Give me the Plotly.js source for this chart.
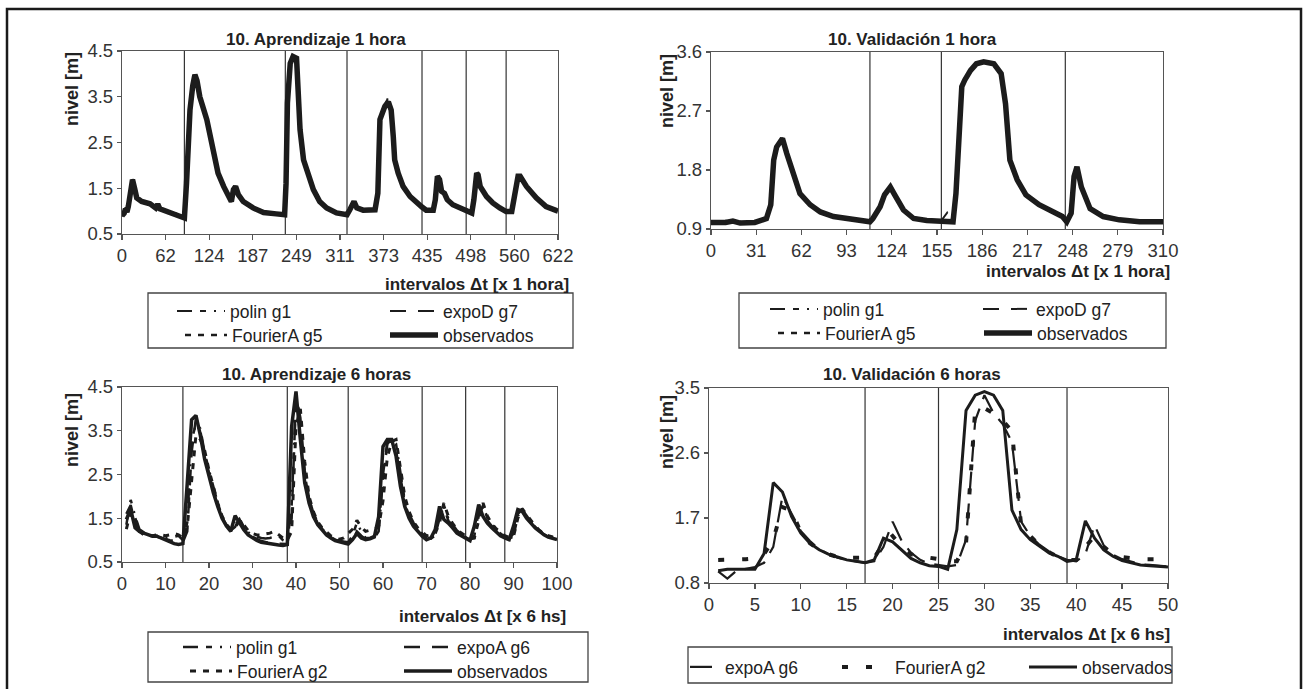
<!DOCTYPE html>
<html>
<head>
<meta charset="utf-8">
<script src="https://cdn.plot.ly/plotly-3.0.1.min.js"></script>
<style>html,body{margin:0;padding:0;background:#fff;}#chart{width:1303px;height:689px;}</style>
</head>
<body>
<div id="chart"></div>
<script>
// ---------- DATA ----------
// Panel 1: 10. Aprendizaje 1 hora
const xA1 = [0,3,5,7,9,12,15,18,21,28,
  40,48,51,54,68,87,89,92,97,101,
  104,107,111,121,130,137,145,152,156,159,
  162,166,173,187,202,220,232,234,236,240,
  244,249,251,254,259,266,273,282,292,306,
  321,325,331,335,344,361,365,368,370,375,
  380,384,387,389,394,401,411,420,428,434,
  444,447,450,453,456,460,464,472,484,491,
  499,502,506,508,511,520,529,539,548,556,
  559,565,568,577,591,605,620,622];
const obsA1 = [0.90,0.95,1.05,0.98,1.10,1.45,1.69,1.50,1.29,1.21,
  1.16,1.07,1.15,1.05,0.97,0.89,0.85,1.60,3.21,3.75,
  3.98,3.85,3.50,3.00,2.41,1.83,1.54,1.32,1.21,1.47,
  1.54,1.36,1.21,1.07,0.97,0.94,0.92,1.60,3.36,4.23,
  4.38,4.34,3.72,2.78,2.12,1.76,1.47,1.21,1.07,0.96,
  0.92,1.03,1.21,1.07,1.02,1.03,1.39,3.00,3.10,3.29,
  3.39,3.21,2.63,2.12,1.83,1.54,1.32,1.18,1.09,1.02,
  1.02,1.25,1.76,1.69,1.43,1.39,1.25,1.14,1.07,1.03,
  0.96,1.25,1.83,1.79,1.54,1.32,1.18,1.07,0.99,0.99,
  1.25,1.76,1.76,1.54,1.29,1.10,1.01,1.00];
const polinA1 = [0.88,0.98,1.08,1.00,1.12,1.40,1.66,1.52,1.30,1.22,
  1.15,1.08,1.13,1.06,0.98,0.90,0.86,1.50,3.15,3.78,
  3.95,3.88,3.52,3.02,2.43,1.85,1.55,1.33,1.23,1.44,
  1.55,1.38,1.22,1.08,0.98,0.95,0.93,1.40,3.25,4.20,
  4.36,4.36,3.75,2.82,2.15,1.78,1.48,1.22,1.08,0.97,
  0.93,1.04,1.18,1.08,1.03,1.04,1.35,2.95,3.12,3.30,
  3.50,3.23,2.66,2.15,1.85,1.55,1.33,1.19,1.10,1.03,
  1.03,1.22,1.74,1.70,1.45,1.40,1.26,1.15,1.08,1.04,
  0.97,1.20,1.80,1.80,1.56,1.33,1.19,1.08,1.00,1.00,
  1.22,1.74,1.77,1.55,1.30,1.11,1.02,1.01];
const expoDA1 = [0.92,0.96,1.03,0.99,1.08,1.42,1.68,1.49,1.28,1.20,
  1.15,1.06,1.14,1.04,0.96,0.88,0.85,1.55,3.18,3.74,
  3.97,3.84,3.49,2.99,2.40,1.82,1.53,1.31,1.20,1.45,
  1.53,1.35,1.20,1.06,0.96,0.93,0.91,1.55,3.30,4.25,
  4.40,4.33,3.70,2.76,2.10,1.75,1.46,1.20,1.06,0.95,
  0.91,1.02,1.20,1.06,1.01,1.02,1.36,2.98,3.08,3.28,
  3.38,3.20,2.61,2.10,1.82,1.53,1.31,1.17,1.08,1.01,
  1.01,1.23,1.75,1.68,1.42,1.38,1.24,1.13,1.06,1.02,
  0.95,1.23,1.82,1.78,1.53,1.31,1.17,1.06,0.98,0.98,
  1.23,1.75,1.75,1.53,1.28,1.09,1.00,0.99];
const fourA1 = [0.91,0.97,1.06,1.00,1.09,1.44,1.70,1.51,1.30,1.22,
  1.17,1.08,1.14,1.06,0.98,0.90,0.87,1.58,3.20,3.76,
  3.99,3.86,3.51,3.01,2.42,1.84,1.55,1.33,1.22,1.46,
  1.55,1.37,1.22,1.08,0.98,0.95,0.93,1.58,3.34,4.22,
  4.37,4.35,3.73,2.79,2.13,1.77,1.48,1.22,1.08,0.97,
  0.93,1.04,1.22,1.08,1.03,1.04,1.38,2.99,3.11,3.30,
  3.40,3.22,2.64,2.13,1.84,1.55,1.33,1.19,1.10,1.03,
  1.03,1.24,1.77,1.70,1.44,1.40,1.26,1.15,1.08,1.04,
  0.97,1.24,1.84,1.80,1.55,1.33,1.19,1.08,1.00,1.00,
  1.24,1.77,1.77,1.55,1.30,1.11,1.02,1.01];
const sepA1 = [89,233,321,428,491,548];
const xTicksA1 = [0,62.2,124.4,186.6,248.8,311,373.2,435.4,497.6,559.8,622];
const xLabelsA1 = ['0','62','124','187','249','311','373','435','498','560','622'];

// Panel 2: 10. Validación 1 hora
const xV1 = [0,5,10,15,20,30,34,38,41,43,
  45,49,52,57,61,68,75,84,95,109,
  111,116,119,123,126,132,139,148,158,162,
  166,168,172,174,178,182,187,194,199,202,
  205,210,216,225,235,241,244,247,249,251,
  254,260,269,280,294,310];
const obsV1 = [1.00,0.99,1.00,1.02,0.99,1.00,1.04,1.06,1.27,1.95,
  2.15,2.28,2.05,1.70,1.44,1.27,1.16,1.09,1.05,1.01,
  1.06,1.24,1.42,1.54,1.42,1.19,1.06,1.03,1.02,1.01,
  1.01,1.44,3.07,3.17,3.32,3.42,3.45,3.42,3.27,2.81,
  1.95,1.65,1.42,1.27,1.16,1.09,1.01,1.14,1.70,1.85,
  1.54,1.21,1.09,1.04,1.01,1.01];
const polinV1 = [1.02,0.98,1.01,1.00,1.00,1.01,1.03,1.08,1.30,1.90,
  2.18,2.26,2.07,1.72,1.45,1.28,1.17,1.10,1.06,1.02,
  1.10,1.22,1.40,1.55,1.44,1.20,1.07,1.04,1.03,1.15,
  1.02,1.40,3.00,3.20,3.33,3.43,3.44,3.41,3.28,2.85,
  1.98,1.66,1.43,1.28,1.17,1.10,1.05,1.12,1.65,1.86,
  1.55,1.22,1.10,1.05,1.02,1.02];
const expoDV1 = [0.99,1.01,0.99,1.01,1.00,0.99,1.05,1.05,1.25,1.93,
  2.14,2.29,2.04,1.69,1.43,1.26,1.15,1.08,1.04,1.00,
  1.05,1.25,1.43,1.53,1.41,1.18,1.05,1.02,1.01,1.00,
  1.00,1.42,3.05,3.15,3.30,3.41,3.46,3.43,3.26,2.80,
  1.94,1.64,1.41,1.26,1.15,1.08,1.00,1.15,1.68,1.84,
  1.53,1.20,1.08,1.03,1.00,1.00];
const fourV1 = [1.01,1.00,1.02,1.01,0.98,1.01,1.04,1.07,1.28,1.96,
  2.16,2.27,2.06,1.71,1.45,1.28,1.17,1.10,1.06,1.02,
  1.07,1.23,1.41,1.55,1.43,1.20,1.07,1.04,1.03,1.02,
  1.02,1.45,3.08,3.18,3.31,3.43,3.44,3.41,3.28,2.83,
  1.96,1.66,1.43,1.28,1.17,1.10,1.02,1.13,1.71,1.86,
  1.55,1.22,1.10,1.05,1.02,1.02];
const sepV1 = [109,158,243];

// Panel 3: 10. Aprendizaje 6 horas (x = 1..100)
const xA6 = [1,2,3,4,5,6,7,8,9,10,11,12,13,14,15,16,17,18,19,20,
  21,22,23,24,25,26,27,28,29,30,31,32,33,34,35,36,37,38,39,40,
  41,42,43,44,45,46,47,48,49,50,51,52,53,54,55,56,57,58,59,60,
  61,62,63,64,65,66,67,68,69,70,71,72,73,74,75,76,77,78,79,80,
  81,82,83,84,85,86,87,88,89,90,91,92,93,94,95,96,97,98,99,100];
const obsA6 = [1.47,1.70,1.28,1.20,1.16,1.12,1.09,1.09,1.05,0.99,
  0.96,0.92,0.90,0.92,2.30,3.75,3.85,3.40,2.85,2.46,
  2.08,1.77,1.50,1.32,1.20,1.56,1.39,1.24,1.12,1.05,
  0.99,0.95,0.93,0.91,0.90,0.89,0.88,0.90,3.60,4.40,
  3.30,2.31,1.85,1.54,1.35,1.22,1.12,1.05,0.99,0.96,
  0.93,0.91,1.01,1.15,1.05,1.01,1.03,1.07,1.54,3.14,
  3.30,3.30,2.92,2.23,1.77,1.50,1.32,1.20,1.09,1.01,
  1.05,1.24,1.77,1.47,1.39,1.28,1.16,1.10,1.05,0.99,
  1.32,1.81,1.54,1.39,1.28,1.18,1.10,1.05,1.01,1.32,
  1.70,1.66,1.50,1.39,1.28,1.20,1.12,1.07,1.03,1.01];
const polinA6 = [1.35,1.92,1.55,1.25,1.18,1.12,1.10,1.10,1.08,1.05,
  1.05,1.08,1.10,1.00,1.40,3.30,3.65,3.55,3.00,2.60,
  2.20,1.85,1.55,1.35,1.22,1.30,1.50,1.30,1.18,1.12,
  1.08,1.05,1.04,1.05,1.08,1.10,1.00,0.95,1.80,4.20,
  3.60,2.50,1.95,1.62,1.40,1.26,1.15,1.08,1.02,0.98,
  0.96,0.95,1.10,1.40,1.20,1.05,1.05,1.10,1.20,2.40,
  3.20,3.30,3.20,2.50,1.90,1.60,1.40,1.25,1.15,1.05,
  1.04,1.10,1.50,1.80,1.50,1.35,1.22,1.14,1.08,1.02,
  1.05,1.55,1.80,1.50,1.35,1.24,1.15,1.08,1.04,1.08,
  1.55,1.70,1.55,1.42,1.30,1.21,1.14,1.09,1.05,1.03];
const expoAA6 = [1.60,1.80,1.40,1.22,1.16,1.12,1.09,1.08,1.05,1.02,
  1.00,0.98,0.96,0.95,1.20,3.00,3.80,3.50,2.95,2.52,
  2.12,1.80,1.53,1.35,1.22,1.35,1.48,1.28,1.15,1.08,
  1.02,0.98,0.96,0.94,0.93,0.92,0.91,0.91,1.50,4.30,
  3.80,2.60,1.95,1.60,1.38,1.24,1.14,1.07,1.01,0.98,
  0.95,0.93,0.98,1.20,1.10,1.02,1.02,1.05,1.20,2.50,
  3.25,3.25,3.05,2.40,1.85,1.55,1.36,1.22,1.12,1.04,
  1.03,1.12,1.55,1.75,1.45,1.32,1.20,1.12,1.07,1.01,
  1.10,1.65,1.75,1.45,1.32,1.21,1.13,1.07,1.02,1.15,
  1.60,1.70,1.52,1.40,1.29,1.20,1.13,1.08,1.04,1.02];
const fourA6 = [1.25,1.65,1.50,1.20,1.12,1.10,1.10,1.12,1.12,1.10,
  1.12,1.15,1.12,1.05,1.30,2.40,3.40,3.30,3.05,2.60,
  2.20,1.85,1.55,1.36,1.25,1.28,1.45,1.35,1.22,1.15,
  1.12,1.12,1.14,1.16,1.20,1.12,1.05,1.00,1.20,3.60,
  4.00,2.80,2.00,1.65,1.42,1.28,1.18,1.10,1.05,1.02,
  1.05,1.15,1.25,1.45,1.30,1.20,1.22,1.25,1.30,1.90,
  2.90,3.25,3.30,2.70,2.00,1.65,1.42,1.28,1.18,1.10,
  1.12,1.15,1.40,1.85,1.55,1.38,1.25,1.16,1.10,1.05,
  1.05,1.45,1.85,1.55,1.38,1.26,1.17,1.10,1.06,1.08,
  1.50,1.72,1.58,1.44,1.32,1.22,1.15,1.10,1.07,1.05];
const sepA6 = [14,38,52,69,79,88];

// Panel 4: 10. Validación 6 horas (x = 1..50)
const xV6 = [1,2,3,4,5,6,7,8,9,10,11,12,13,14,15,16,17,18,19,20,
  21,22,23,24,25,26,27,28,29,30,31,32,33,34,35,36,37,38,39,40,
  41,42,43,44,45,46,47,48,49,50];
const obsV6 = [0.97,0.99,0.99,0.99,0.99,1.21,2.19,2.06,1.72,1.49,
  1.35,1.26,1.20,1.16,1.12,1.10,1.08,1.12,1.42,1.37,
  1.26,1.14,1.08,1.04,1.03,0.99,1.54,3.19,3.40,3.45,
  3.40,3.19,1.81,1.54,1.40,1.31,1.22,1.17,1.10,1.12,
  1.66,1.42,1.26,1.17,1.11,1.08,1.05,1.04,1.03,1.02];
const expoAV6 = [0.96,0.86,0.97,1.00,1.02,1.08,1.30,2.00,1.75,1.52,
  1.38,1.27,1.20,1.15,1.12,1.10,1.08,1.10,1.30,1.65,
  1.38,1.22,1.12,1.07,1.05,1.03,1.05,1.40,3.05,3.40,
  3.15,3.00,2.75,1.65,1.45,1.33,1.24,1.17,1.12,1.10,
  1.20,1.60,1.32,1.19,1.13,1.09,1.06,1.05,1.04,1.03];
const fourV6 = [1.12,1.12,1.12,1.13,1.14,1.20,1.40,1.85,1.80,1.50,
  1.35,1.26,1.20,1.16,1.15,1.15,1.15,1.15,1.35,1.45,
  1.30,1.20,1.15,1.15,1.13,1.10,1.10,1.35,3.20,3.22,
  3.15,3.05,2.90,1.60,1.45,1.32,1.23,1.16,1.12,1.12,
  1.30,1.45,1.30,1.20,1.16,1.14,1.13,1.13,1.13,1.13];
const sepV6 = [17,25,39];

// ---------- STYLE / LAYOUT ----------
const W = 1303, H = 689;
const px = v => v / W;
const py = v => 1 - v / H;
const INK = '#1c1c1c';
const FONT = 'Liberation Sans, Arial, Helvetica, sans-serif';
const TICKSIZE = 18.5;

const D_POLIN = '15px,8px,6px,8px,2px,8px';
const D_EXPO = '16px,12px';
const D_FOUR = '6px,7px';

const traces = [];
function tr(x, y, name, xa, ya, legend, dash, width) {
  traces.push({
    type: 'scatter', mode: 'lines', x: x, y: y, name: name,
    xaxis: xa, yaxis: ya, legend: legend, showlegend: true,
    line: {color: INK, width: width, dash: dash},
    hoverinfo: 'skip'
  });
}
// Panel 1
tr(xA1, polinA1, 'polin g1', 'x', 'y', 'legend', D_POLIN, 2);
tr(xA1, expoDA1, 'expoD g7', 'x', 'y', 'legend2', D_EXPO, 2);
tr(xA1, fourA1, 'FourierA g5', 'x', 'y', 'legend3', D_FOUR, 2.5);
tr(xA1, obsA1, 'observados', 'x', 'y', 'legend4', 'solid', 5.5);
// Panel 2
tr(xV1, polinV1, 'polin g1', 'x2', 'y2', 'legend5', D_POLIN, 2);
tr(xV1, expoDV1, 'expoD g7', 'x2', 'y2', 'legend6', D_EXPO, 2);
tr(xV1, fourV1, 'FourierA g5', 'x2', 'y2', 'legend7', D_FOUR, 2.5);
tr(xV1, obsV1, 'observados', 'x2', 'y2', 'legend8', 'solid', 5.5);
// Panel 3
tr(xA6, polinA6, 'polin g1', 'x3', 'y3', 'legend9', D_POLIN, 2.5);
tr(xA6, expoAA6, 'expoA g6', 'x3', 'y3', 'legend10', D_EXPO, 2.5);
tr(xA6, fourA6, 'FourierA g2', 'x3', 'y3', 'legend11', D_FOUR, 3);
tr(xA6, obsA6, 'observados', 'x3', 'y3', 'legend12', 'solid', 3.5);
// Panel 4
tr(xV6, expoAV6, 'expoA g6', 'x4', 'y4', 'legend13', '22px,10px', 2.2);
tr(xV6, fourV6, 'FourierA g2', 'x4', 'y4', 'legend14', '6px,18px', 4);
tr(xV6, obsV6, 'observados', 'x4', 'y4', 'legend15', 'solid', 3);

function xAxis(d0, d1, range, anchor, extra) {
  return Object.assign({
    domain: [px(d0), px(d1)], range: range, anchor: anchor,
    showgrid: false, zeroline: false, showline: true, mirror: true,
    linecolor: '#555', linewidth: 1.2, ticks: 'outside', ticklen: 5,
    tickcolor: '#555', tickwidth: 1.2,
    tickfont: {family: FONT, size: TICKSIZE, color: '#333'}, fixedrange: true
  }, extra);
}
function yAxis(top, bottom, range, anchor, tickvals) {
  return {
    domain: [py(bottom), py(top)], range: range, anchor: anchor,
    tickmode: 'array', tickvals: tickvals, ticktext: tickvals.map(v => v.toFixed(1)),
    showgrid: false, zeroline: false, showline: true, mirror: true,
    linecolor: '#555', linewidth: 1.2, ticks: 'outside', ticklen: 4,
    tickcolor: '#555', tickwidth: 1.2,
    tickfont: {family: FONT, size: TICKSIZE, color: '#333'}, fixedrange: true
  };
}

const layout = {
  width: W, height: H,
  margin: {l: 0, r: 0, t: 0, b: 0},
  paper_bgcolor: '#fff', plot_bgcolor: '#fff',
  font: {family: FONT, size: 17, color: '#222'},
  showlegend: true,
  xaxis: xAxis(122, 558, [0, 622], 'y', {tickmode: 'array', tickvals: xTicksA1, ticktext: xLabelsA1}),
  yaxis: yAxis(51, 234, [0.5, 4.5], 'x', [0.5, 1.5, 2.5, 3.5, 4.5]),
  xaxis2: xAxis(711, 1163, [0, 310], 'y2', {tickmode: 'linear', tick0: 0, dtick: 31}),
  yaxis2: yAxis(52, 229, [0.9, 3.6], 'x2', [0.9, 1.8, 2.7, 3.6]),
  xaxis3: xAxis(122, 557, [0, 100], 'y3', {tickmode: 'linear', tick0: 0, dtick: 10}),
  yaxis3: yAxis(387, 562, [0.5, 4.5], 'x3', [0.5, 1.5, 2.5, 3.5, 4.5]),
  xaxis4: xAxis(709, 1168, [0, 50], 'y4', {tickmode: 'linear', tick0: 0, dtick: 5}),
  yaxis4: yAxis(388, 583, [0.8, 3.5], 'x4', [0.8, 1.7, 2.6, 3.5]),
  shapes: [],
  annotations: []
};

// event separators
function seps(vals, xa, ya) {
  vals.forEach(v => layout.shapes.push({
    type: 'line', xref: xa, yref: ya + ' domain', x0: v, x1: v, y0: 0, y1: 1,
    line: {color: '#333', width: 1.2}, layer: 'below'
  }));
}
seps(sepA1, 'x', 'y'); seps(sepV1, 'x2', 'y2'); seps(sepA6, 'x3', 'y3'); seps(sepV6, 'x4', 'y4');

// outer frame
layout.shapes.push({type: 'rect', xref: 'paper', yref: 'paper',
  x0: px(7), x1: px(1301), y0: py(720), y1: py(9),
  line: {color: '#1a1a1a', width: 2.5}, fillcolor: 'rgba(0,0,0,0)'});
// legend boxes
[[148, 293, 573, 348], [739, 293, 1166, 348], [148, 632, 588, 682], [688, 647, 1172, 683]].forEach(b => {
  layout.shapes.push({type: 'rect', xref: 'paper', yref: 'paper',
    x0: px(b[0]), x1: px(b[2]), y0: py(b[3]), y1: py(b[1]),
    line: {color: '#444', width: 1.3}, fillcolor: 'rgba(0,0,0,0)'});
});

// legends: one per entry, [textX, rowY, sampleWidth]
const legendPos = [
  [230, 311, 48], [443, 311, 48], [232, 335, 42], [443, 335, 48],
  [823, 309, 48], [1036, 309, 48], [825, 333, 42], [1037, 333, 48],
  [236, 647, 48], [457, 647, 48], [237, 671, 42], [457, 671, 48],
  [725, 667, 30], [895, 667, 48], [1082, 667, 48]
];
legendPos.forEach((p, i) => {
  const key = i === 0 ? 'legend' : 'legend' + (i + 1);
  layout[key] = {
    x: px(p[0] - p[2] - 10), y: py(p[1]), xanchor: 'left', yanchor: 'middle',
    bgcolor: 'rgba(0,0,0,0)', borderwidth: 0, itemwidth: p[2],
    font: {family: FONT, size: 17.5, color: '#222'}
  };
});

// titles and axis titles (positioned as in the reference)
function ann(text, x, y, opts) {
  layout.annotations.push(Object.assign({
    text: text, xref: 'paper', yref: 'paper', x: px(x), y: py(y),
    showarrow: false, xanchor: 'center', yanchor: 'middle',
    font: {family: FONT, size: 17, color: '#222'}
  }, opts || {}));
}
ann('<b>10. Aprendizaje 1 hora</b>', 316, 40);
ann('<b>10. Validación 1 hora</b>', 912, 40);
ann('<b>10. Aprendizaje 6 horas</b>', 316, 374);
ann('<b>10. Validación 6 horas</b>', 912, 374);
const yt = {textangle: -90, font: {family: FONT, size: 18, color: '#222'}};
ann('<b>nivel [m]</b>', 72, 89, yt);
ann('<b>nivel [m]</b>', 667, 91, yt);
ann('<b>nivel [m]</b>', 72, 430, yt);
ann('<b>nivel [m]</b>', 667, 432, yt);
ann('<b>intervalos Δt [x 1 hora]</b>', 571, 284, {xanchor: 'right'});
ann('<b>intervalos Δt [x 1 hora]</b>', 1172, 271, {xanchor: 'right'});
ann('<b>intervalos Δt [x 6 hs]</b>', 568, 616, {xanchor: 'right'});
ann('<b>intervalos Δt [x 6 hs]</b>', 1172, 634, {xanchor: 'right'});

Plotly.newPlot('chart', traces, layout, {staticPlot: true, displayModeBar: false});
</script>
</body>
</html>
